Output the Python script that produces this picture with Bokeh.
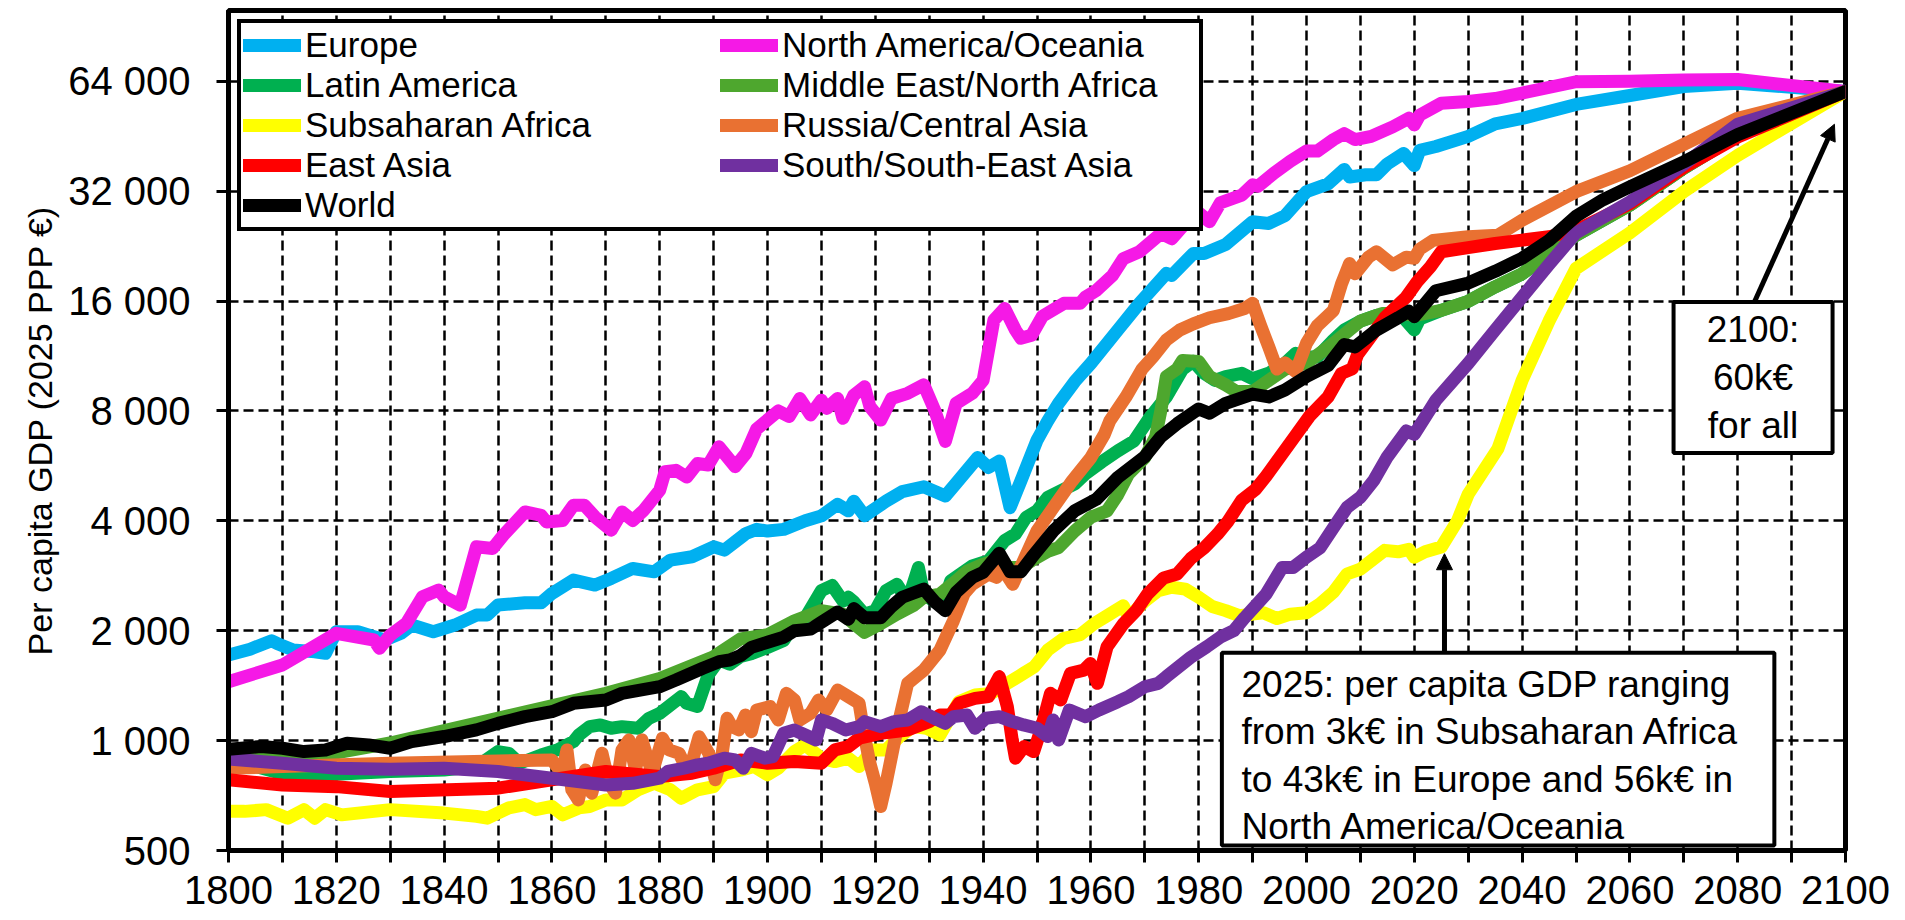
from bokeh.plotting import figure
from bokeh.models import (FixedTicker, CustomJSTickFormatter, Legend, LegendItem, Arrow,
                          NormalHead, Label, BoxAnnotation, Range1d)
from bokeh.embed import file_html
from bokeh.resources import INLINE

FONT = "Liberation Sans"

# ---------------- data (per capita GDP, 2025 PPP EUR) ----------------
europe_years = [1800,1804,1808,1809,1812,1816,1818,1820,1824,1827,1829,1832,1834,1838,1842,1846,1848,1850,1855,1858,
                1860,1864,1868,1871,1875,1879,1882,1886,1890,1892,1896,1898,1900,1903,1907,1910,1913,1915,1916,1918,
                1922,1925,1929,1933,1935,1939,1941,1943,1945,1947,1950,1952,1954,1957,1960,1965,1969,1974,1975,1979,
                1981,1985,1990,1993,1996,2000,2004,2007,2008,2011,2013,2015,2018,2020,2021,2024,2030,2035,2040,2050,
                2060,2070,2080,2100]
europe_gdp = [1716,1780,1878,1846,1771,1752,1734,1988,1988,1926,1886,1967,2073,1988,2073,2207,2207,2351,2386,2386,
              2530,2753,2667,2782,2962,2900,3122,3189,3395,3325,3693,3790,3750,3790,4000,4127,4440,4260,4527,4130,
              4527,4810,4960,4680,5070,5963,5600,5830,4347,5140,6650,7510,8390,9630,10800,13330,15770,19050,18800,21600,
              21600,22850,26380,26100,27400,31900,33500,36700,35000,35500,35500,38000,40600,37600,41400,42400,45200,48900,50600,55300,
              58500,61900,63200,60000]

na_years = [1800,1810,1820,1827,1828,1830,1833,1836,1839,1840,1843,1846,1849,1851,1855,1858,1859,1862,1864,1866,
            1868,1871,1873,1875,1877,1880,1881,1883,1885,1887,1889,1891,1894,1896,1898,1902,1904,1906,1908,1910,
            1911,1913,1914,1916,1918,1919,1921,1923,1926,1929,1931,1933,1935,1938,1940,1942,1944,1946,1947,1949,
            1951,1955,1958,1959,1961,1964,1966,1969,1973,1975,1978,1980,1982,1984,1988,1990,1991,1994,1997,2000,
            2002,2005,2007,2009,2012,2014,2016,2019,2020,2021,2025,2030,2035,2040,2050,2060,2070,2080,2100]
na_gdp = [1450,1611,1967,1886,1790,1945,2095,2478,2585,2478,2350,3395,3360,3655,4230,4140,3970,4010,4415,4415,
          4100,3770,4230,4010,4270,4850,5450,5500,5270,5740,5690,6380,5630,6120,7140,8000,7720,8650,7800,8560,
          8130,8650,7640,8830,9320,8220,7550,8650,8940,9430,8050,6600,8390,8940,9700,14190,15270,13330,12650,12900,
          14540,15770,15770,16400,17110,18800,20900,21830,24500,23700,26650,27900,26400,29700,31200,33300,33000,35900,38650,41200,
          41200,44300,46000,44300,45200,46600,48000,50700,48600,51700,55700,56300,57400,59400,63800,64000,64500,64700,60000]

latam_years = [1800,1805,1810,1815,1820,1830,1840,1846,1850,1852,1854,1858,1861,1864,1865,1867,1869,1871,1873,1876,
               1878,1880,1884,1885,1887,1889,1891,1893,1895,1897,1900,1903,1905,1907,1910,1912,1914,1915,1916,1918,
               1920,1922,1924,1926,1928,1929,1931,1933,1934,1938,1941,1944,1946,1948,1950,1952,1957,1959,1962,1965,
               1968,1971,1974,1977,1979,1981,1983,1985,1988,1990,1993,1996,1998,2000,2002,2005,2007,2010,2013,2015,
               2018,2020,2021,2025,2030,2035,2040,2045,2050,2060,2070,2080,2100]
latam_gdp = [900,850,811,800,809,823,831,849,933,923,867,913,943,994,1036,1092,1104,1081,1092,1081,
             1151,1188,1320,1265,1240,1513,1663,1620,1700,1730,1800,1880,2090,2170,2575,2660,2410,2470,2400,2220,
             2270,2575,2680,2410,2980,2520,2400,2470,2740,3010,3110,3530,3680,4090,4260,4640,5050,5380,5800,6220,
             6620,7700,8740,10400,10940,10140,9700,9940,10140,9800,10150,10800,11500,11240,11240,12520,13330,14100,14620,14620,
             14400,13330,14300,15080,15970,17500,19000,21500,24230,29300,37000,45500,60000]

mena_years = [1800,1810,1820,1830,1870,1880,1890,1895,1900,1905,1910,1914,1916,1918,1921,1924,1927,1929,1932,1935,
              1937,1940,1942,1945,1947,1949,1952,1954,1957,1960,1963,1965,1967,1970,1972,1973,1974,1976,1977,1980,
              1982,1985,1987,1990,1993,1996,2000,2005,2010,2014,2018,2020,2025,2030,2035,2040,2045,2050,2060,2070,
              2080,2100]
mena_gdp = [920,885,925,985,1347,1480,1698,1900,1950,2130,2270,2220,2090,1980,2090,2220,2340,2470,2520,2740,
            2910,3040,3110,2980,2980,3110,3300,3380,3750,4090,4260,4720,5380,5960,6800,8050,9940,10420,11000,10930,
            9940,9430,9040,9040,9700,10400,10830,12260,14100,14780,14780,14600,15080,15970,17500,19000,21500,24230,29300,37000,
            45500,60000]

ssa_years = [1800,1803,1807,1811,1814,1816,1818,1821,1830,1840,1846,1848,1852,1855,1857,1860,1862,1865,1867,1870,
             1873,1876,1879,1882,1884,1887,1890,1892,1895,1897.5,1900,1902,1905,1907,1910,1912.5,1915,1917,1919.5,1922,
             1924.5,1927,1929.5,1932,1935.5,1938.5,1941.5,1944.5,1947.5,1949.5,1952,1955,1958,1960.5,1963.5,1966,1967,1970,1972.5,1975,
             1977.5,1980,1982.5,1985,1987.5,1990,1992,1994.5,1997,2000,2002.5,2005,2007.5,2010,2014.5,2017,2019,2020,2022,2025,
             2028,2030,2035.5,2040,2045,2050,2060,2070,2080,2100]
ssa_gdp = [640,640,647,613,647,613,647,626,647,633,620,613,654,668,647,660,626,654,660,688,
           688,733,764,733,695,733,748,814,830,849,806,840,933,973,895,876,895,849,943,943,
           1026,1092,1081,1036,1278,1333,1347,1435,1528,1593,1770,1906,1950,2087,2220,2340,2180,2410,2575,2630,
           2600,2470,2330,2270,2200,2220,2240,2160,2220,2240,2370,2550,2860,2950,3320,3290,3340,3180,3290,3390,
           4000,4730,6300,9700,14100,19650,24600,31900,40100,60000]

russia_years = [1800,1810,1830,1860,1861.9,1862.8,1863.7,1864.9,1866.2,1867.4,1869.3,1870.6,1871.8,1873,1874.3,1875.5,1876.7,1878.6,1880.5,1881.7,
                1883.6,1885.4,1887.3,1889.1,1890.3,1891.6,1892.5,1893.4,1894.7,1895.9,1897,1898,1900.5,1902,1903.5,1905,1906,1908,1909.5,1911,
                1913,1915,1917,1918,1919,1920,1921,1922,1924,1926,1929,1932,1934.5,1936.5,1938,1941,1942.5,1943.5,1945.5,1947.5,
                1950,1953.5,1956.5,1960,1962.5,1963.5,1966.5,1969.5,1971.5,1974,1976.5,1979,1982,1985.5,1988.5,1990,1991.5,1993,1994.5,1996,
                1998,2000,2002,2005,2006.5,2008,2009,2011.5,2013,2016,2018.5,2020,2021,2023.5,2030,2035.5,2040,2050,2060,2070,
                2080,2100]
russia_gdp = [840,849,867,885,814,943,733,688,831,718,923,764,718,943,1004,831,1004,814,1015,943,
              923,814,1025,923,781,923,1151,1092,1070,1175,1058,1213,1239,1139,1347,1292,1139,1188,1292,1213,
              1376,1320,1265,1026,867,764,660,764,1069,1435,1560,1770,2130,2530,2680,2860,2800,2980,2680,3110,
              3750,4450,5140,5960,6900,7510,8740,10420,11240,12520,13330,13860,14400,14780,15270,15770,13690,11980,10420,10830,
              10250,12260,13690,15080,17830,20280,19000,21100,21830,20100,21100,20960,22200,23460,24000,24230,26650,31900,36400,43000,
              50700,60000]

easia_years = [1800,1810,1820,1830,1850,1860,1870,1880,1886,1890,1895,1900,1905,1910,1912.5,1915,1917,1921,1926,1930,
               1932,1934,1935.5,1938.5,1941,1943,1944.5,1945.4,1946,1947.6,1949.4,1950.7,1952.5,1954.4,1956.2,1958.7,1959.9,1961.2,1963,1966,
               1968.5,1970.5,1973.5,1976,1978.5,1981,1983.5,1985.5,1988,1990.5,1992.5,1997.5,2000.5,2004,2006.5,2008.5,2009.5,2011.5,2014.5,2018.5,
               2020.5,2023,2025,2030,2035,2040,2045,2050,2060,2070,2080,2100]
easia_gdp = [781,756,748,725,741,781,823,797,814,840,885,867,876,867,943,963,1015,1047,1069,1127,
             1175,1175,1265,1305,1320,1497,1239,1004,895,963,933,1069,1347,1292,1528,1560,1627,1435,1808,2087,
             2280,2520,2790,2860,3150,3370,3680,4000,4560,4870,5300,6700,7720,8740,10140,10440,11440,12520,14400,16400,
             18040,19860,21830,22400,23000,23500,24000,25000,29560,37200,45000,60000]

sasia_years = [1800,1810,1820,1830,1840,1850,1860,1870,1875,1880,1881.5,1884.5,1887,1889,1892,1894,1895.5,1897,1899.5,1901,
               1903,1905,1907,1909,1910,1912,1914.5,1917,1918,1921,1923.5,1926,1928.5,1931,1933,1934.5,1937,1938.5,1940.5,1943,
               1945.5,1947.5,1950,1952,1953,1954,1956,1959,1961.5,1965,1967,1970,1972.5,1974,1978.5,1981.5,1984,1986.5,1988.5,1992.5,
               1995.5,1997.5,2000,2002.5,2005,2007.5,2010,2012.5,2015,2018.5,2020,2024,2030,2035,2040,2045,2050,2060,2070,2080,
               2100]
sasia_gdp = [891,867,840,835,840,823,789,756,764,789,823,840,858,867,895,885,840,923,895,904,
             1047,1069,1036,1004,1139,1115,1069,1092,1127,1092,1127,1139,1200,1151,1115,1163,1175,1081,1151,1163,
             1127,1104,1081,1026,1139,1004,1213,1163,1213,1278,1320,1405,1435,1497,1690,1808,1920,2000,2170,2520,
             2980,2980,3180,3370,3830,4350,4640,5170,5990,7050,6900,8560,10800,13330,16400,20160,24600,29900,37900,48800,
             60000]

world_years = [1800,1806,1810,1814,1818,1822,1826,1830,1834,1840,1846,1850,1855,1860,1864,1870,1873,1880,1883,1888,
               1891,1893,1895,1897,1900,1903,1905,1908,1910,1913,1915,1916,1918,1921,1923,1925,1929,1931,1933,1935,
               1938,1940,1943,1945,1947,1949,1953,1957,1961,1965,1970,1973,1976,1980,1982,1985,1990,1993,1996,2000,
               2004,2007,2009,2013,2017,2019,2020,2024,2030,2035,2040,2045,2050,2055,2060,2070,2080,2100]
world_gdp = [947,963,953,933,943,983,973,953,994,1026,1070,1115,1163,1200,1265,1292,1347,1405,1465,1578,
             1645,1663,1710,1800,1860,1920,2000,2020,2110,2250,2150,2300,2170,2170,2330,2470,2600,2400,2270,2550,
             2800,2890,3260,2900,2900,3170,3750,4260,4580,5260,6000,6800,7380,8100,7880,8390,8900,8740,9130,9940,
             10650,12160,11980,13330,14400,15000,14500,17070,17920,19300,20960,23460,27300,30300,32900,38500,45700,60000]

series_names = ["Europe", "North America/Oceania", "Latin America", "Middle East/North Africa",
                "Subsaharan Africa", "Russia/Central Asia", "East Asia", "South/South-East Asia", "World"]
series_colors = ["#00B0F0", "#F519E6", "#00B050", "#4EA72E", "#FFFF00", "#E97132", "#FF0000", "#7030A0", "#000000"]
series_data = [(europe_years, europe_gdp), (na_years, na_gdp), (latam_years, latam_gdp), (mena_years, mena_gdp),
               (ssa_years, ssa_gdp), (russia_years, russia_gdp), (easia_years, easia_gdp),
               (sasia_years, sasia_gdp), (world_years, world_gdp)]

y_ticks = [500, 1000, 2000, 4000, 8000, 16000, 32000, 64000]
x_ticks = list(range(1800, 2101, 10))

for yrs, vals in series_data:
    assert len(yrs) == len(vals), (len(yrs), len(vals))

# ---------------- figure ----------------
p = figure(width=1900, height=920, title=None,
           x_range=Range1d(1800, 2100), y_range=Range1d(500, 100000), y_axis_type="log",
           output_backend="svg", toolbar_location=None,
           min_border_left=228, min_border_right=55, min_border_top=10, min_border_bottom=70)
p.background_fill_color = "white"
p.border_fill_color = "white"
p.outline_line_color = "black"
p.outline_line_alpha = 1.0
p.outline_line_width = 5

renderers = {}
for name, col, (yrs, vals) in zip(series_names, series_colors, series_data):
    renderers[name] = p.line(yrs, vals, line_color=col, line_width=13,
                             line_cap="round", line_join="round")

# axes
p.xaxis.ticker = FixedTicker(ticks=x_ticks, minor_ticks=[])
p.xaxis.formatter = CustomJSTickFormatter(
    code="const t = Math.round(tick); return (t % 20 == 0) ? String(t) : '';")
p.yaxis.ticker = FixedTicker(ticks=y_ticks, minor_ticks=[])
p.yaxis.formatter = CustomJSTickFormatter(
    code=r"return String(Math.round(tick)).replace(/\B(?=(\d{3})+(?!\d))/g, ' ');")

for ax in (p.xaxis[0], p.yaxis[0]):
    ax.axis_line_color = "black"
    ax.axis_line_width = 5
    ax.major_tick_out = 12
    ax.major_tick_in = 0
    ax.major_tick_line_color = "black"
    ax.major_tick_line_width = 3
    ax.minor_tick_line_color = None
    ax.major_label_text_font = FONT
    ax.major_label_text_font_size = "40px"
    ax.major_label_text_color = "black"

p.xaxis.major_label_standoff = 13
p.yaxis.major_label_standoff = 26
p.yaxis.axis_label = "Per capita GDP (2025 PPP €)"
p.yaxis.axis_label_text_font = FONT
p.yaxis.axis_label_text_font_size = "34px"
p.yaxis.axis_label_text_font_style = "normal"
p.yaxis.axis_label_text_color = "black"
p.yaxis.axis_label_standoff = 6

for g in (p.xgrid[0], p.ygrid[0]):
    g.grid_line_color = "black"
    g.grid_line_alpha = 1.0
    g.grid_line_width = 2.5
    g.grid_line_dash = "10 5"

# legend (column-major order, two columns)
legend_order = ["Europe", "Latin America", "Subsaharan Africa", "East Asia", "World",
                "North America/Oceania", "Middle East/North Africa", "Russia/Central Asia",
                "South/South-East Asia"]
legend = Legend(items=[LegendItem(label=n, renderers=[renderers[n]]) for n in legend_order],
                location="top_left", ncols=2, orientation="vertical")
legend.label_text_font = FONT
legend.label_text_font_size = "35px"
legend.label_text_color = "black"
legend.glyph_width = 58
legend.glyph_height = 20
legend.label_standoff = 4
legend.label_width = 415
legend.spacing = -4
legend.padding = 2
legend.margin = 9
legend.border_line_color = "black"
legend.border_line_alpha = 1.0
legend.border_line_width = 4
legend.background_fill_color = "white"
legend.background_fill_alpha = 1.0
p.add_layout(legend)

# annotations
box1 = BoxAnnotation(left=2068.1, right=2097.6, top=15900, bottom=6140,
                     fill_color="white", fill_alpha=1.0,
                     line_color="black", line_alpha=1.0, line_width=4)
box2 = BoxAnnotation(left=1984.3, right=2086.8, top=1741, bottom=516,
                     fill_color="white", fill_alpha=1.0,
                     line_color="black", line_alpha=1.0, line_width=4)
p.add_layout(box1)
p.add_layout(box2)

lab1 = Label(x=2082.85, y=9880, text="2100:\n60k€\nfor all", text_align="center",
             text_baseline="middle", text_font=FONT, text_font_size="37px",
             text_line_height=1.16, text_color="black")
lab2 = Label(x=1987.94, y=1624,
             text="2025: per capita GDP ranging\nfrom 3k€ in Subsaharan Africa\n"
                  "to 43k€ in Europe and 56k€ in\nNorth America/Oceania",
             text_align="left", text_baseline="top", text_font=FONT, text_font_size="37px",
             text_line_height=1.16, text_color="black")
p.add_layout(lab1)
p.add_layout(lab2)

arr1 = Arrow(x_start=2083.1, y_start=15900, x_end=2097.95, y_end=48800, line_width=5,
             line_color="black", end=NormalHead(size=16, line_color="black", fill_color="black"))
arr2 = Arrow(x_start=2025.6, y_start=1741, x_end=2025.6, y_end=3250, line_width=5,
             line_color="black", end=NormalHead(size=16, line_color="black", fill_color="black"))
p.add_layout(arr1)
p.add_layout(arr2)

open("out.html", "w").write(file_html(p, INLINE))
